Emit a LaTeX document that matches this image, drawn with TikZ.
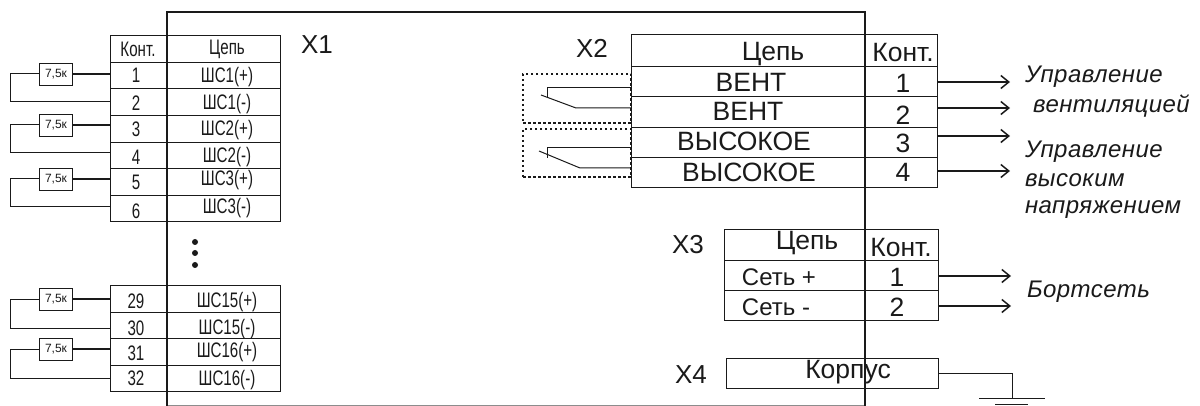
\documentclass[tikz,border=0pt]{standalone}
\usepackage{fontspec}
\setmainfont{Liberation Sans}
\newfontfamily\narrowf[FakeStretch=0.72]{Liberation Sans}
\newfontfamily\wideit[LetterSpace=2]{Liberation Sans}
\usetikzlibrary{arrows.meta,calc}
\definecolor{ink}{HTML}{1A1A1A}
\newcommand\fsa{\narrowf\fontsize{21}{21}\selectfont}
\newcommand\fsb{\fontsize{26.5}{27}\selectfont}
\newcommand\fsc{\fontsize{24}{24}\selectfont}
\newcommand\cellbox[9]{%
  \pgfmathsetmacro\cellw{#4-#2}\pgfmathsetmacro\cellh{#5-#3}%
  \pgfmathsetmacro\cellx{(#4+#2)/2}\pgfmathsetmacro\celly{(#5+#3)/2}%
  \node[cellstyle,minimum width=\cellw pt,minimum height=\cellh pt] (#1) at (\cellx,\celly) {};
  \node[textstyle] (#1-t) at (#6,#7) {#8#9};
}
\tikzset{
  cellstyle/.style={draw=ink,line width=.9pt,inner sep=0pt,outer sep=0pt},
  textstyle/.style={inner sep=0pt,outer sep=0pt,text=ink},
  res/.style={draw=ink,line width=.9pt,inner sep=0pt,minimum width=33pt,minimum height=22pt,font=\fontsize{12}{12}\selectfont,text=ink},
  wirethick/.style={draw=ink,line width=1.8pt},
  wirethin/.style={draw=ink,line width=1pt},
  outarrow/.style={draw=ink,line width=1.3pt,-{Straight Barb[length=8pt,width=13pt,line width=1.5pt]}},
  frameline/.style={draw=ink,line width=2pt},
  conn/.style={draw=ink,line width=1pt},
  dotbox/.style={draw=ink,line width=1.3pt,dash pattern=on 2.5pt off 2.5pt,inner sep=0pt,outer sep=0pt},
  lab/.style={inner sep=0pt,outer sep=0pt,text=ink,font=\fontsize{26}{26}\selectfont},
  note/.style={inner sep=0pt,outer sep=0pt,anchor=west,text=ink,font=\wideit\itshape\fontsize{24}{24}\selectfont},
}
\begin{document}
\begin{tikzpicture}[x=1pt,y=-1pt]
\useasboundingbox (0,0) rectangle (1200,406);
% left table X1
\cellbox{ka}{110}{35}{167}{62}{138}{49}{\fsa}{Конт.}
\cellbox{ca}{167}{35}{280}{62}{227}{49}{\fsa}{Цепь}
\foreach \vn/\va/\vb/\ty/\sy/\vt in {1/62/88/75/77/ШС1(+),2/88/115/103/104/ШС1(-),3/115/142/129/130/ШС2(+),4/142/168/157/157/ШС2(-),5/168/195/182/180/ШС3(+),6/195/221/211/208/ШС3(-),29/285/312/301/302/ШС15(+),30/312/338/328/329/ШС15(-),31/338/365/353/352/ШС16(+),32/365/391/378/380/ШС16(-)}{
  \cellbox{k\vn}{110}{\va}{167}{\vb}{136}{\ty}{\fsa}{\vn}
  \cellbox{c\vn}{167}{\va}{280}{\vb}{227}{\sy}{\fsa}{\vt}
}
% frame
\coordinate (ftl) at (167,12); \coordinate (ftr) at (865,12);
\coordinate (fbl) at (167,406); \coordinate (fbr) at (865,406);
\coordinate (gl) at (167,405); \coordinate (gr) at (865,405);
\draw[draw=black!45,line width=.8pt] (gl) -- (gr);
\draw[frameline] (fbl) -- (ftl) -- (ftr) -- (fbr);
% resistors
\foreach \vr/\vy/\yb/\vp/\vq in {a/74/102/k1/k2,b/125/153/k3/k4,c/179/207/k5/k6,d/299/328/k29/k30,e/349/378/k31/k32}{
  \node[res] (r\vr) at (56,\vy) {7,5к};
  \coordinate (u\vr) at (10,\vy);
  \coordinate (v\vr) at (10,\yb);
  \draw[wirethick] (r\vr.east) -- (r\vr.east -| \vp.west);
  \draw[wirethin] (r\vr.west) -- (u\vr) -- (v\vr) -- (v\vr -| \vq.west);
}
\node[circle,fill=ink,inner sep=0pt,minimum size=6pt] (d1) at (195,242) {};
\node[circle,fill=ink,inner sep=0pt,minimum size=6pt] (d2) at (195,253) {};
\node[circle,fill=ink,inner sep=0pt,minimum size=6pt] (d3) at (195,265) {};
\node[lab] (x1) at (317,45) {X1};
\node[lab] (x2) at (592,48) {X2};
\node[lab] (x3) at (688,245) {X3};
\node[lab] (x4) at (691,375) {X4};
% X2
\cellbox{xc0}{631}{34}{865}{66}{773}{54}{\fsb}{Цепь}
\cellbox{xc1}{631}{66}{865}{96}{751}{82}{\fsb}{ВЕНТ}
\cellbox{xc2}{631}{96}{865}{127}{748}{111}{\fsb}{ВЕНТ}
\cellbox{xc3}{631}{127}{865}{157}{744}{141}{\fsb}{ВЫСОКОЕ}
\cellbox{xc4}{631}{157}{865}{187}{749}{172}{\fsb}{ВЫСОКОЕ}
\cellbox{xk0}{865}{34}{937}{66}{903}{53}{\fsb}{Конт.}
\cellbox{xk1}{865}{66}{937}{96}{903}{83}{\fsb}{1}
\cellbox{xk2}{865}{96}{937}{127}{903}{115}{\fsb}{2}
\cellbox{xk3}{865}{127}{937}{157}{903}{143}{\fsb}{3}
\cellbox{xk4}{865}{157}{937}{187}{903}{172}{\fsb}{4}
% dotted boxes
\node[dotbox,minimum width=108pt,minimum height=49pt] (dot1) at (577,98.5) {};
\node[dotbox,minimum width=108pt,minimum height=48pt] (dot2) at (577,153) {};
% contacts
\coordinate (p1) at (547,88); \coordinate (p2) at (547,98);
\coordinate (b1) at (541,95); \coordinate (b2) at (576,108);
\coordinate (p3) at (547,148); \coordinate (p4) at (547,158);
\coordinate (b3) at (539,151); \coordinate (b4) at (580,168);
\draw[conn] (p1 -| dot1.east) -- (p1) -- (p2);
\draw[conn] (b1) -- (b2) -- (b2 -| dot1.east);
\draw[conn] (p3 -| dot2.east) -- (p3) -- (p4);
\draw[conn] (b3) -- (b4) -- (b4 -| dot2.east);
% arrows X2
\coordinate (a1) at (1010,82); \coordinate (a2) at (1010,108);
\coordinate (a3) at (1010,136); \coordinate (a4) at (1010,171);
\draw[outarrow] (a1 -| xk1.east) -- (a1);
\draw[outarrow] (a2 -| xk2.east) -- (a2);
\draw[outarrow] (a3 -| xk3.east) -- (a3);
\draw[outarrow] (a4 -| xk4.east) -- (a4);
\node[note] (n1) at (1025,77) {Управление};
\node[note] (n2) at (1033,106) {вентиляцией};
\node[note] (n3) at (1025,152) {Управление};
\node[note] (n4) at (1025,180) {высоким};
\node[note] (n5) at (1025,210) {напряжением};
% X3
\cellbox{yc0}{724}{229}{865}{260}{807}{243}{\fsb}{Цепь}
\cellbox{yk0}{865}{229}{938}{260}{901}{248}{\fsb}{Конт.}
\cellbox{yc1}{724}{260}{865}{290}{779}{277}{\fsc}{Сеть +}
\cellbox{yk1}{865}{260}{938}{290}{897}{277}{\fsb}{1}
\cellbox{yc2}{724}{290}{865}{320}{776}{307}{\fsc}{Сеть -}
\cellbox{yk2}{865}{290}{938}{320}{897}{307}{\fsb}{2}
\coordinate (a5) at (1011,276); \coordinate (a6) at (1011,306);
\draw[outarrow] (a5 -| yk1.east) -- (a5);
\draw[outarrow] (a6 -| yk2.east) -- (a6);
\node[note] (n6) at (1027,292) {Бортсеть};
% X4
\cellbox{z}{726}{358}{938}{388}{848}{372}{\fsb}{Корпус}
\coordinate (g1) at (1012,373); \coordinate (g2) at (1012,398);
\coordinate (gb1) at (979,398); \coordinate (gb2) at (1045,398);
\coordinate (gc1) at (995,404); \coordinate (gc2) at (1028,404);
\draw[conn] (z.east |- g1) -- (g1) -- (g2);
\draw[conn] (gb1) -- (gb2);
\draw[conn] (gc1) -- (gc2);
\end{tikzpicture}
\end{document}
